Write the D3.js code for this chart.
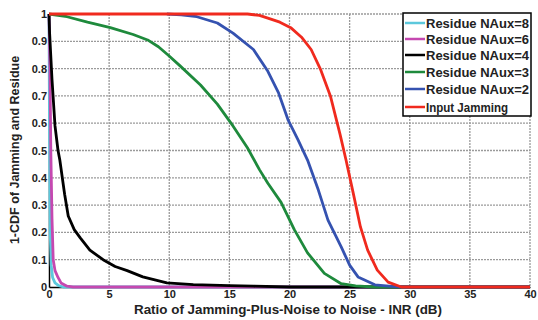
<!DOCTYPE html>
<html><head><meta charset="utf-8">
<script src="https://cdn.jsdelivr.net/npm/d3@7"></script>
<style>body{margin:0;background:#fff}svg{display:block}text{font-family:"Liberation Sans",Arial,sans-serif;font-weight:bold}</style>
</head><body>
<script>
const xTicks = [0,5,10,15,20,25,30,35,40];
const yTicks = [0,0.1,0.2,0.3,0.4,0.5,0.6,0.7,0.8,0.9,1];
const yTickLabels = ["0","0.1","0.2","0.3","0.4","0.5","0.6","0.7","0.8","0.9","1"];
const seriesNames = ["Residue NAux=8","Residue NAux=6","Residue NAux=4","Residue NAux=3","Residue NAux=2","Input Jamming"];
const seriesColors = ["#5cc8dc","#c548b0","#000000","#1e8a3c","#3552b0","#f02a1e"];
const naux8 = [[0,1],[0.03,0.7],[0.06,0.45],[0.1,0.2],[0.18,0.08],[0.3,0.035],[0.5,0.015],[0.8,0.005],[1.2,0],[40,0]];
const naux6 = [[0,1],[0.08,0.8],[0.15,0.5],[0.25,0.25],[0.35,0.1],[0.5,0.06],[0.75,0.035],[1,0.015],[1.5,0.003],[2,0],[40,0]];
const naux4 = [[0,1],[0.05,0.93],[0.25,0.76],[0.5,0.59],[0.75,0.5],[0.9,0.465],[1.3,0.34],[1.6,0.26],[2.1,0.21],[2.6,0.18],[3.4,0.135],[4.5,0.1],[5.5,0.075],[6.5,0.06],[7.8,0.037],[9.8,0.015],[12,0.009],[15,0.005],[17,0.003],[20,0],[40,0]];
const naux3 = [[0,1],[1.5,0.99],[3.2,0.97],[5.1,0.95],[7,0.925],[8.2,0.905],[9.1,0.88],[9.9,0.85],[10.9,0.81],[12.6,0.74],[14,0.67],[15.3,0.59],[16.5,0.51],[17.5,0.43],[18.2,0.38],[19.3,0.31],[20.4,0.21],[21.5,0.125],[22.9,0.05],[24.3,0.012],[25.5,0.004],[27,0],[40,0]];
const naux2 = [[9.8,1],[11,0.997],[12.3,0.99],[14,0.967],[15.3,0.93],[17,0.87],[18.2,0.79],[19.1,0.71],[19.9,0.61],[20.7,0.54],[21.5,0.465],[22.4,0.355],[23.2,0.245],[24.3,0.147],[25,0.08],[25.7,0.037],[27.1,0.008],[28.5,0.002],[29.5,0],[40,0]];
const jamming = [[0,1],[16.5,1],[17.5,0.995],[18.2,0.985],[19.2,0.97],[20.1,0.95],[21,0.915],[21.8,0.87],[22.6,0.795],[23.4,0.7],[24.2,0.56],[24.7,0.465],[25.3,0.344],[25.9,0.22],[26.5,0.135],[27.3,0.062],[28.2,0.018],[29.3,0],[40,0]];
const seriesData = [naux8,naux6,naux4,naux3,naux2,jamming];

const W=538,H=320, L=49, R=530, T=14, B=287;
const svg = d3.select("body").append("svg").attr("width",W).attr("height",H);
const x = d3.scaleLinear().domain([0,40]).range([L,R]);
const y = d3.scaleLinear().domain([0,1]).range([B,T]);

// grid
const g = svg.append("g");
g.selectAll(".vg").data(xTicks.slice(1)).enter().append("line")
 .attr("x1",d=>x(d)).attr("x2",d=>x(d)).attr("y1",T).attr("y2",B)
 .attr("stroke","#9a9a9a").attr("stroke-width",1.3).attr("stroke-dasharray","2,1");
g.selectAll(".hg").data(yTicks.slice(1)).enter().append("line")
 .attr("y1",d=>y(d)).attr("y2",d=>y(d)).attr("x1",L).attr("x2",R)
 .attr("stroke","#9a9a9a").attr("stroke-width",1.3).attr("stroke-dasharray","2,1");

// axes
const xa = svg.append("g").attr("transform",`translate(0,${B})`)
 .call(d3.axisBottom(x).tickValues(xTicks).tickSize(0).tickPadding(3));
xa.select(".domain").attr("stroke","#000").attr("stroke-width",1.5);
xa.selectAll("text").attr("font-size",11).attr("fill","#222").attr("font-family","Liberation Sans, Arial").attr("font-weight","bold");
const ya = svg.append("g").attr("transform",`translate(${L},0)`)
 .call(d3.axisLeft(y).tickValues(yTicks).tickFormat((d,i)=>yTickLabels[i]).tickSize(0).tickPadding(2));
ya.select(".domain").attr("stroke","#000").attr("stroke-width",1.5);
ya.selectAll("text").attr("font-size",11).attr("fill","#222").attr("font-family","Liberation Sans, Arial").attr("font-weight","bold");

// lines
const line = d3.line().x(d=>x(d[0])).y(d=>y(d[1]));
seriesData.forEach((s,i)=>{
  svg.append("path").datum(s).attr("d",line).attr("fill","none")
   .attr("stroke",seriesColors[i]).attr("stroke-width",2.8).attr("stroke-linejoin","round");
});

// legend
const lg = svg.append("g");
lg.append("rect").attr("x",403).attr("y",13).attr("width",128).attr("height",103)
 .attr("fill","#fff").attr("stroke","#000").attr("stroke-width",1.5);
const ly=[23,39,55,72,89,107];
seriesNames.forEach((n,i)=>{
  lg.append("line").attr("x1",405).attr("x2",425).attr("y1",ly[i]).attr("y2",ly[i])
   .attr("stroke",seriesColors[i]).attr("stroke-width",2.5);
  const t = lg.append("text").attr("x",426).attr("y",ly[i]+4.5).attr("font-size",12).attr("fill","#222").text(n);
  t.attr("textLength",i<5?103:82).attr("lengthAdjust","spacingAndGlyphs");
});

// titles
svg.append("text").attr("x",288).attr("y",314).attr("text-anchor","middle").attr("font-size",12.5).attr("fill","#222")
 .attr("textLength",308).attr("lengthAdjust","spacingAndGlyphs")
 .text("Ratio of Jamming-Plus-Noise to Noise - INR (dB)");
svg.append("text").attr("transform","translate(19,150) rotate(-90)").attr("text-anchor","middle").attr("font-size",12.5).attr("fill","#222")
 .text("1-CDF of Jamming and Residue");
</script>
</body></html>
